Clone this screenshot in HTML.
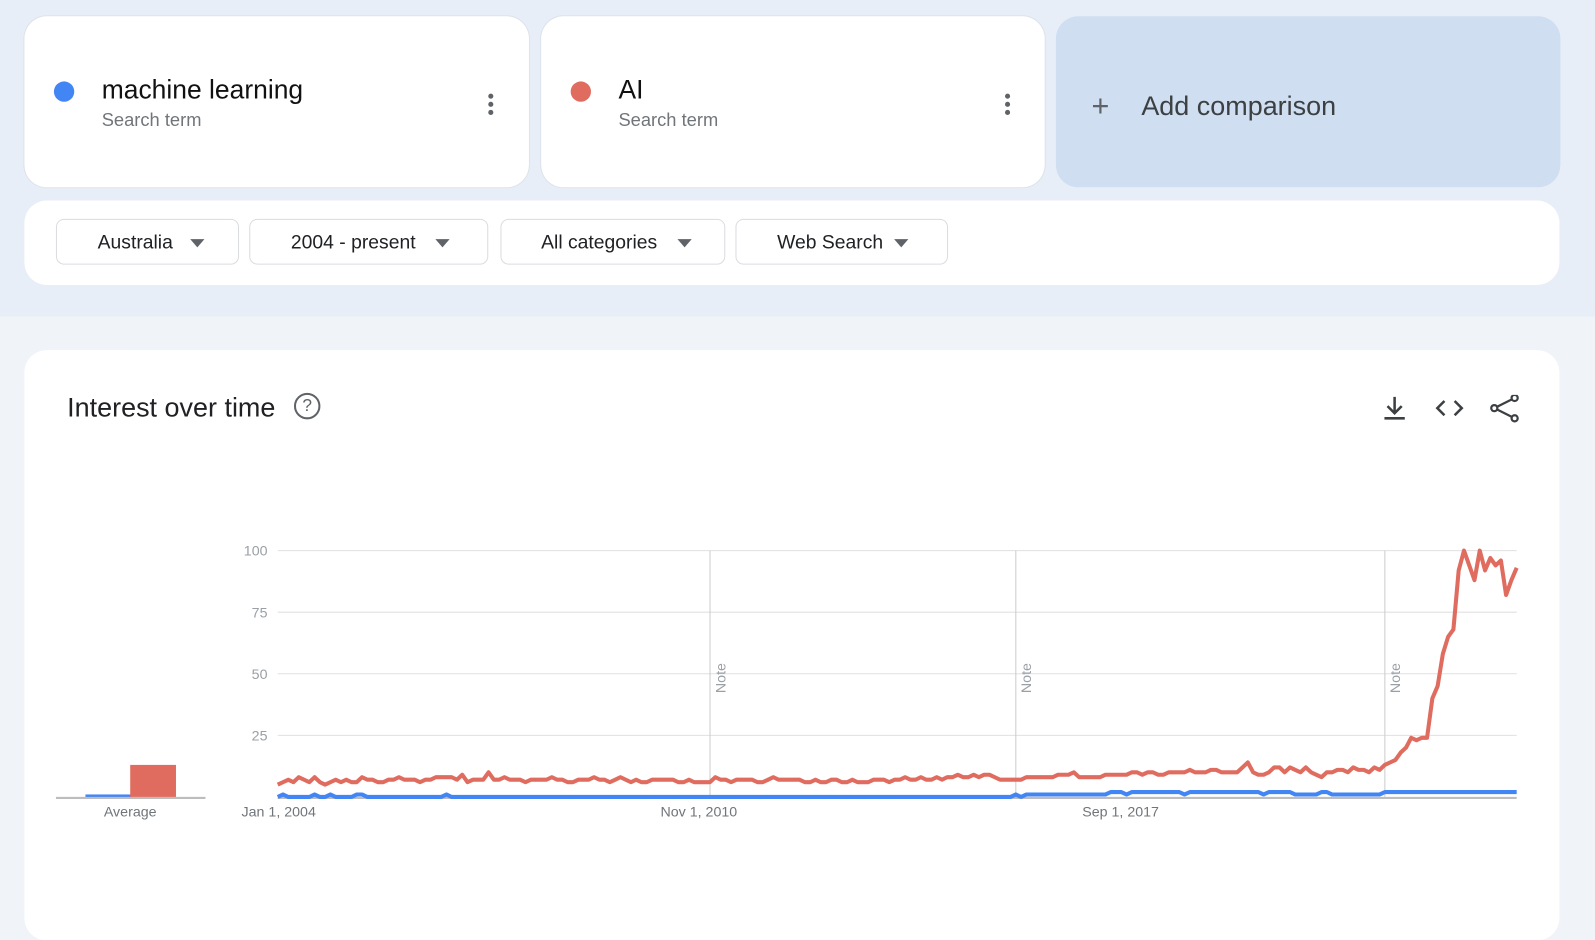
<!DOCTYPE html>
<html><head><meta charset="utf-8">
<style>
html,body{margin:0;padding:0;width:1595px;height:916px;overflow:hidden;background:#f0f4f9;font-family:"Liberation Sans",sans-serif;}
#wrap{position:absolute;left:0;top:0;width:1568px;height:900px;transform:scale(1.01722,1.01778);transform-origin:0 0;}
.top{position:absolute;left:0;top:0;width:1568px;height:311px;background:#e8eef7;}
.card{position:absolute;background:#fff;border-radius:22px;box-shadow:0 0 0 1px #dde3ea;}
.dot{position:absolute;width:20px;height:20px;border-radius:50%;}
.term{position:absolute;font-size:26px;color:#111;}
.sub{position:absolute;font-size:18px;color:#70757a;}
.kebab{position:absolute;width:4px;}
.kebab i{display:block;width:5px;height:5px;border-radius:50%;background:#5f6368;margin-bottom:3px;}
.dd{position:absolute;top:215px;height:45px;border:1px solid #dadce0;border-radius:8px;font-size:19px;color:#202124;line-height:45px;box-sizing:border-box;}
.dd span.t{position:absolute;}
.dd span.a{position:absolute;top:19px;width:0;height:0;border-left:7px solid transparent;border-right:7px solid transparent;border-top:8px solid #5f6368;}
</style></head><body>
<div id="wrap">
<div class="top"></div>

<div class="card" style="left:24px;top:16px;width:496px;height:168px;">
  <div class="dot" style="left:29px;top:64px;background:#4285f4;"></div>
  <div class="term" style="left:76px;top:57px;">machine learning</div>
  <div class="sub" style="left:76px;top:92px;">Search term</div>
  <div class="kebab" style="left:456px;top:76px;"><i></i><i></i><i></i></div>
</div>
<div class="card" style="left:532px;top:16px;width:495px;height:168px;">
  <div class="dot" style="left:29px;top:64px;background:#e06c60;"></div>
  <div class="term" style="left:76px;top:57px;">AI</div>
  <div class="sub" style="left:76px;top:92px;">Search term</div>
  <div class="kebab" style="left:456px;top:76px;"><i></i><i></i><i></i></div>
</div>
<div style="position:absolute;left:1038px;top:16px;width:496px;height:168px;background:#cfdef1;border-radius:22px;">
  <div style="position:absolute;left:35px;top:74px;font-size:30px;color:#5f6368;line-height:30px;font-weight:300;">+</div>
  <div style="position:absolute;left:84px;top:73px;font-size:26.5px;color:#3c4043;">Add comparison</div>
</div>

<div class="card" style="left:24px;top:197px;width:1509px;height:83px;box-shadow:none;"></div>
<div class="dd" style="left:55px;width:180px;"><span class="t" style="left:40px;">Australia</span><span class="a" style="left:131px;"></span></div>
<div class="dd" style="left:245px;width:235px;"><span class="t" style="left:40px;">2004 - present</span><span class="a" style="left:182px;"></span></div>
<div class="dd" style="left:492px;width:221px;"><span class="t" style="left:39px;">All categories</span><span class="a" style="left:173px;"></span></div>
<div class="dd" style="left:723px;width:209px;"><span class="t" style="left:40px;">Web Search</span><span class="a" style="left:155px;"></span></div>

<div class="card" style="left:24px;top:344px;width:1509px;height:580px;box-shadow:none;">
  <div style="position:absolute;left:42px;top:41px;font-size:26.5px;color:#202124;">Interest over time</div>
  <div style="position:absolute;left:265px;top:42px;width:22px;height:22px;border:2px solid #5f6368;border-radius:50%;font-size:17px;color:#5f6368;text-align:center;line-height:22px;">?</div>
  <svg style="position:absolute;left:1334px;top:44px;" width="150" height="30">
    <g stroke="#3c4043" stroke-width="2.5" fill="none"><path d="M13 2v16M6 11l7 7 7-7M3 23h20"/></g>
    <g stroke="#3c4043" stroke-width="2.5" fill="none"><path d="M62 6l-7 7 7 7M72 6l7 7-7 7"/></g>
    <g stroke="#3c4043" stroke-width="2.2" fill="none"><circle cx="131" cy="3" r="3"/><circle cx="111" cy="13" r="3"/><circle cx="131" cy="23" r="3"/><path d="M114 11.5l14-7M114 14.5l14 7"/></g>
  </svg>
</div>

<svg id="chart" style="position:absolute;left:0;top:0;" width="1568" height="900"></svg>
</div>

<script>
const redValues=[5,6,7,6,8,7,6,8,6,5,6,7, 6,7,6,6,8,7,7,6,6,7,7,8, 7,7,7,6,7,7,8,8,8,8,7,9, 6,7,7,7,10,7,7,8,7,7,7,6, 7,7,7,7,8,7,7,6,6,7,7,7, 8,7,7,6,7,8,7,6,7,6,6,7, 7,7,7,7,6,6,7,6,6,6,6,8, 7,7,6,7,7,7,7,6,6,7,8,7, 7,7,7,7,6,6,7,6,6,7,7,6, 6,7,6,6,6,7,7,7,6,7,7,8, 7,7,8,7,7,8,7,8,8,9,8,8, 9,8,9,9,8,7,7,7,7,7,8,8, 8,8,8,8,9,9,9,10,8,8,8,8, 8,9,9,9,9,9,10,10,9,10,10,9, 9,10,10,10,10,11,10,10,10,11,11,10, 10,10,10,12,14,10,9,9,10,12,12,10, 12,11,10,12,10,9,8,10,10,11,11,10, 12,11,11,10,12,11,13,14,15,18,20,24, 23,24,24,40,45,58,65,68,92,100,94,88, 100,92,97,94,96,82,88,93];
const blueValues=[0,1,0,0,0,0,0,1,0,0,1,0, 0,0,0,1,1,0,0,0,0,0,0,0, 0,0,0,0,0,0,0,0,1,0,0,0, 0,0,0,0,0,0,0,0,0,0,0,0, 0,0,0,0,0,0,0,0,0,0,0,0, 0,0,0,0,0,0,0,0,0,0,0,0, 0,0,0,0,0,0,0,0,0,0,0,0, 0,0,0,0,0,0,0,0,0,0,0,0, 0,0,0,0,0,0,0,0,0,0,0,0, 0,0,0,0,0,0,0,0,0,0,0,0, 0,0,0,0,0,0,0,0,0,0,0,0, 0,0,0,0,0,0,0,0,1,0,1,1, 1,1,1,1,1,1,1,1,1,1,1,1, 1,1,2,2,2,1,2,2,2,2,2,2, 2,2,2,2,1,2,2,2,2,2,2,2, 2,2,2,2,2,2,2,1,2,2,2,2, 2,1,1,1,1,1,2,2,1,1,1,1, 1,1,1,1,1,1,2,2,2,2,2,2, 2,2,2,2,2,2,2,2,2,2,2,2, 2,2,2,2,2,2,2,2];
const averages=[1,13];
const yTicks=[25,50,75,100];
const xLabels=["Jan 1, 2004","Nov 1, 2010","Sep 1, 2017"];
const xLabelIdx=[0,82,162];
const noteIdx=[82,140,210];

const svg=document.getElementById('chart');
const NS='http://www.w3.org/2000/svg';
const x0=273,x1=1491,y0=783,y1=541;
const n=redValues.length;
const xs=i=>x0+(x1-x0)*i/(n-1);
const ys=v=>y0-(y0-y1)*v/100;
function el(t,a){const e=document.createElementNS(NS,t);for(const k in a)e.setAttribute(k,a[k]);svg.appendChild(e);return e;}

yTicks.forEach(t=>{
  const g=el('line',{x1:x0,x2:x1,y1:ys(t),y2:ys(t),stroke:'#e0e0e0','stroke-width':1});
  
  
  const l=el('text',{x:263,y:ys(t)+5,'text-anchor':'end','font-size':14,fill:'#9aa0a6','font-family':'Liberation Sans'});
  l.textContent=t;
  
  
});
noteIdx.forEach(i=>{
  const ln=el('line',{x1:xs(i),x2:xs(i),y1:y1,y2:y0,stroke:'#ccc','stroke-width':1});
  
  
  const t=el('text',{x:0,y:0,transform:`translate(${xs(i)+15},681) rotate(-90)`,'font-size':14,fill:'#9aa0a6','font-family':'Liberation Sans'});
  t.textContent='Note';
  
  
});
const ax=el('line',{x1:x0,x2:x1,y1:y0+1,y2:y0+1,stroke:'#bdbdbd','stroke-width':2});


xLabels.forEach((s,k)=>{
  const t=el('text',{x:xs(xLabelIdx[k])+(k==0?1:-11),y:802,'text-anchor':'middle','font-size':14,fill:'#70757a','font-family':'Liberation Sans'});
  t.textContent=s;
  
  
});
function path(vals,color,name){
  const d=vals.map((v,i)=>(i?'L':'M')+xs(i).toFixed(1)+' '+ys(v).toFixed(1)).join('');
  const p=el('path',{d:d,fill:'none',stroke:color,'stroke-width':4,'stroke-linejoin':'round'});
  
  
}
path(blueValues,'#4285f4','series-machine-learning');
path(redValues,'#e06c60','series-ai');

const ab=el('line',{x1:55,x2:202,y1:y0+1,y2:y0+1,stroke:'#bdbdbd','stroke-width':2});


const bx=[84,128],bc=['#4285f4','#e06c60'];
averages.forEach((v,i)=>{
  const h=Math.max(1,(y0-ys(v)));
  const r=el('rect',{x:bx[i],y:y0-h,width:45,height:h,fill:bc[i]});
  
  
});
const at=el('text',{x:128,y:802,'text-anchor':'middle','font-size':14,fill:'#70757a','font-family':'Liberation Sans'});
at.textContent='Average';


</script>
</body></html>
